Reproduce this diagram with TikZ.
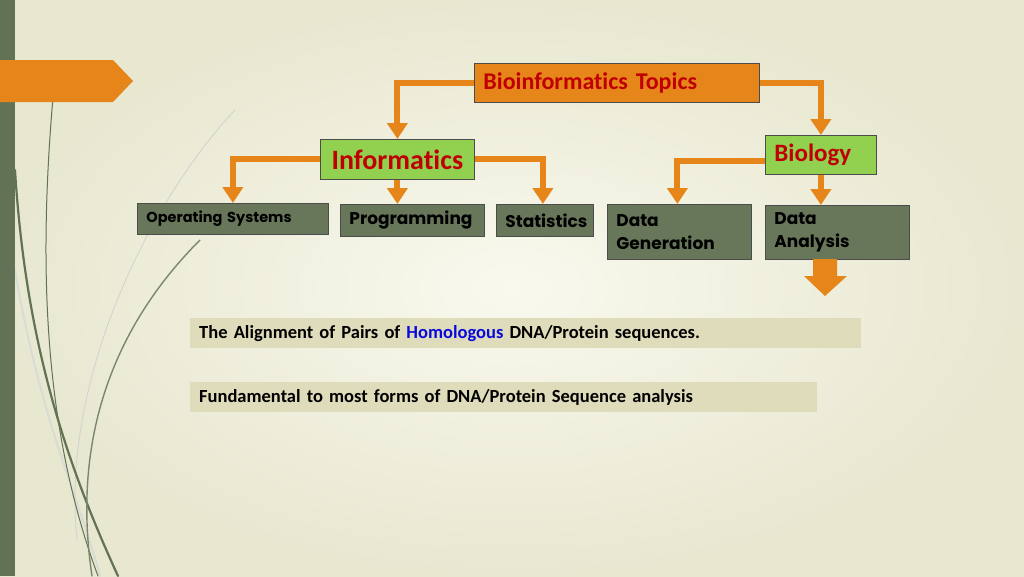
\documentclass[tikz,border=0pt]{standalone}
\usepackage{fontspec}
\setmainfont[Ligatures=NoCommon]{Carlito}
\newfontfamily\gothic{Poppins}
\usetikzlibrary{positioning,calc,arrows.meta}
\definecolor{bgout}{RGB}{232,231,208}
\definecolor{bgin}{RGB}{249,249,238}
\definecolor{band}{RGB}{98,114,84}
\definecolor{arrorange}{RGB}{230,134,26}
\definecolor{leafgreen}{RGB}{146,208,80}
\definecolor{darkred}{RGB}{192,0,0}
\definecolor{olivegray}{RGB}{104,119,90}
\definecolor{notefill}{RGB}{222,220,186}
\definecolor{homblue}{RGB}{10,10,220}
\tikzset{>={Triangle[width=20pt,length=16pt]}}
\tikzset{
  link/.style={->,draw=arrorange,line width=6pt},
  box/.style={draw=black!70,line width=0.8pt,anchor=north west,inner xsep=9pt,inner ysep=0pt,align=left},
  topicbox/.style={box,fill=arrorange,text=darkred,font=\bfseries\fontsize{24}{28}\selectfont},
  fieldbox/.style={box,fill=leafgreen,text=darkred,font=\bfseries\fontsize{25}{30}\selectfont},
  areabox/.style={box,fill=olivegray,text=black,font=\gothic\bfseries\fontsize{17}{23}\selectfont},
  notebox/.style={anchor=north west,fill=notefill,inner xsep=9pt,inner ysep=0pt,align=left,font=\bfseries\fontsize{18.5}{22}\selectfont},
  stem/.style={line cap=round,fill=none},
}

\begin{document}
\begin{tikzpicture}[x=1pt,y=-1pt]
\useasboundingbox (0,0) rectangle (1024,576);
\shade[inner color=bgin,outer color=bgout] (0,0) rectangle (1024,576);
% grass stems on the left
\draw[stem,draw=band!25,line width=2pt] (15,270) .. controls (40,420) and (80,500) .. (100,576);
\draw[stem,draw=black!18,line width=0.8pt] (235,110) .. controls (150,200) and (60,380) .. (77,540);
\draw[stem,draw=band,line width=1pt] (53,97) .. controls (40,250) and (40,420) .. (98,576);
\draw[stem,draw=band,line width=2.2pt] (15,170) .. controls (25,330) and (60,450) .. (118,576);
\draw[stem,draw=band!85,line width=1.4pt] (200,240) .. controls (120,320) and (70,430) .. (92,576);
\fill[band] (0,0) rectangle (15,576);
\fill[arrorange] (0,60) -- (113,60) -- (133,81) -- (113,102) -- (0,102) -- cycle;

\node[topicbox,text width=267,minimum height=39] (topic) at (474,63) {Bioinformatics Topics};
\node[fieldbox,text width=136,minimum height=40,align=center,font=\bfseries\fontsize{28}{32}\selectfont] (info) at (320,139) {Informatics};
\node[fieldbox,text width=93,minimum height=39] (bio) at (765,135) {Biology};

\node[areabox,text width=173,minimum height=31,font=\gothic\bfseries\fontsize{14.5}{17}\selectfont] (os) at (137,203) {Operating Systems};
\node[areabox,text width=126,minimum height=32] (prog) at (340,204) {Programming};
\node[areabox,text width=79,minimum height=32] (stat) at (496,204) {Statistics};
\node[areabox,text width=126,minimum height=55] (gen) at (607,204) {Data\\Generation};
\node[areabox,text width=126,minimum height=54] (ana) at (765,205) {Data\\Analysis};

\draw[link] (topic.west) -| (info.north);
\draw[link] (topic.east) -| (bio.north);
\draw[link] (info.west) -| (os.north);
\draw[link] (info.south) -- (info.south |- prog.north);
\draw[link] (info.east) -| ($(stat.north)+(-2,0)$);
\draw[link] ([yshift=-6pt]bio.west) -| ($(gen.north)+(-2,0)$);
\draw[link] (bio.south) -- (bio.south |- ana.north);
\fill[arrorange] (813,259) -- (837,259) -- (837,276) -- (847,276) -- (825,296)
  -- (804,276) -- (813,276) -- cycle;

\node[notebox,text width=653,minimum height=30] (align) at (190,318)
  {The Alignment of Pairs of \textcolor{homblue}{Homologous} DNA/Protein sequences.};
\node[notebox,text width=609,minimum height=30] (fund) at (190,382)
  {Fundamental to most forms of DNA/Protein Sequence analysis};
\end{tikzpicture}
\end{document}
